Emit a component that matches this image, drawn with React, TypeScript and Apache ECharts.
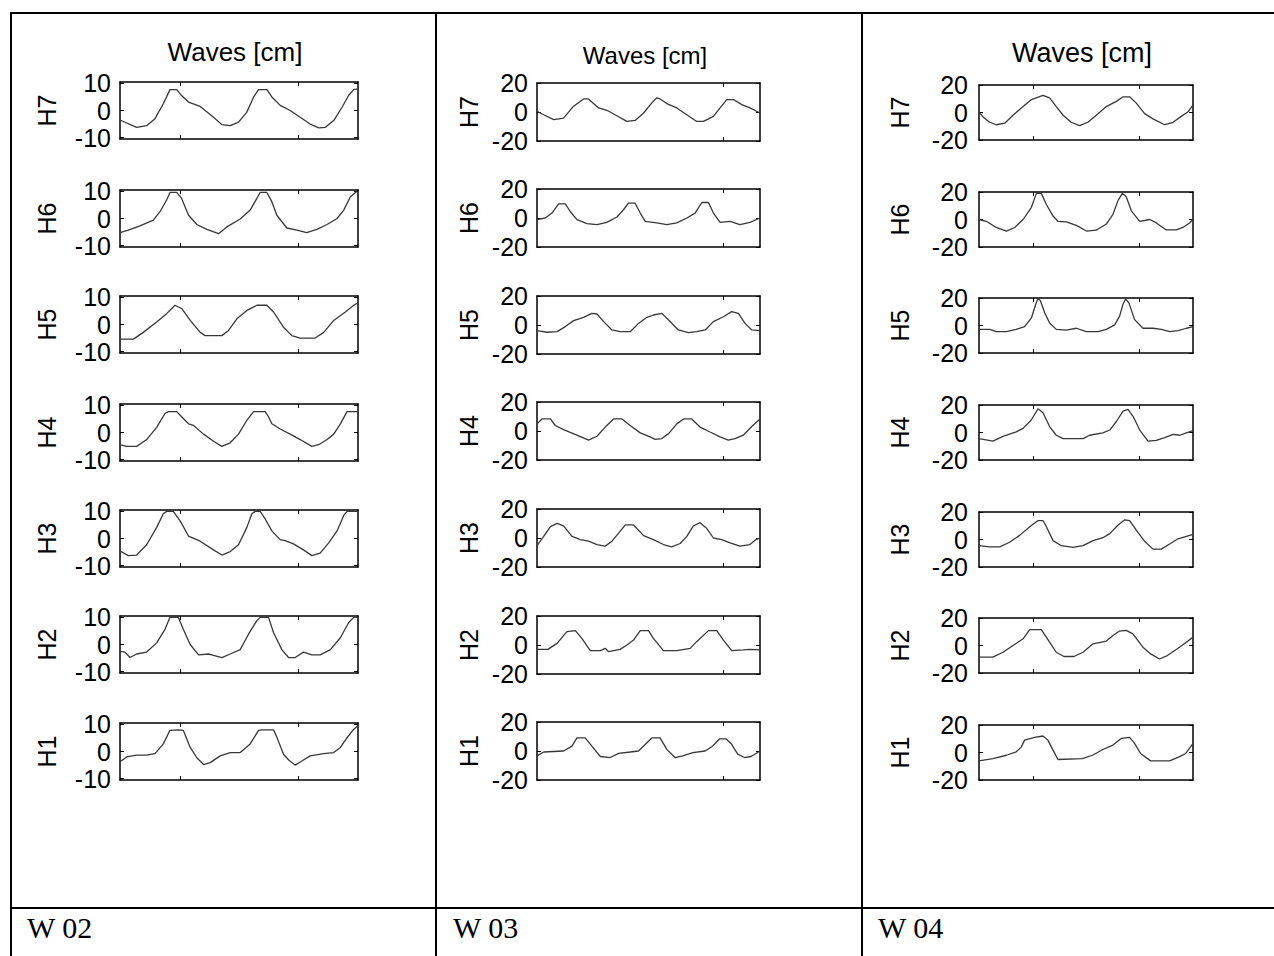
import React, { useEffect, useRef } from "react";
import * as echarts from "echarts";

// ---------- text ----------
const rowNames = ["H7", "H6", "H5", "H4", "H3", "H2", "H1"];
const columnLabels = ["W 02", "W 03", "W 04"];
const panelTitle = "Waves [cm]";

// ---------- axis ticks ----------
const yTicksW02 = [-10, 0, 10];
const yTicksW03 = [-20, 0, 20];
const yTicksW04 = [-20, 0, 20];
const yLimitW02 = [-10.5, 10.5];
const yLimitW03 = [-20, 20];
const yLimitW04 = [-20, 20];
const xTicksW02 = [25.2, 74.8];
const xTicksW03 = [83.4];
const xTicksW04 = [25.2, 74.8];

// ---------- series: [time % of record, wave elevation cm] ----------
const w02H7 = [[0,-3.5],[7,-6.2],[11.2,-5.6],[14.7,-3],[18.2,2.5],[21,7.7],[23.8,7.7],[25.9,5.5],[28.8,3.1],[33.7,1.5],[39.3,-2.5],[42.8,-5.2],[46.3,-5.6],[49.8,-4.3],[53.3,-0.6],[56.1,4.9],[58.2,7.7],[61.7,7.7],[63.8,5],[67.3,1.9],[71.5,0],[75.7,-2.5],[79.9,-5],[83.5,-6.4],[86.3,-6.2],[89.8,-3.7],[93.3,1.2],[96.1,5.6],[98.2,7.7],[100,8]];
const w02H6 = [[0,-5.2],[3.5,-4.3],[8.4,-2.7],[14,-0.6],[16.8,2.5],[19.6,6.8],[21,9.6],[23.8,9.6],[25.9,7.4],[28.8,1.2],[32.3,-2.2],[36.5,-4],[41.4,-5.6],[44.9,-3.1],[50.5,-0.2],[54.7,3.1],[57.5,7.4],[58.9,9.6],[61.7,9.6],[63.8,6.2],[65.9,1.2],[70.1,-3.5],[74.3,-4.3],[78.5,-5.2],[82.7,-4],[87,-2.2],[91.2,0],[94,3.1],[96.8,8],[99.6,10]];
const w02H5 = [[0,-5.4],[5.6,-5.4],[9.8,-2.9],[15.4,0.9],[19.6,4],[23.1,7.1],[25.9,5.9],[29.5,1.5],[33.7,-2.9],[35.8,-4.1],[42.8,-4.1],[45.6,-2.2],[49.1,2.1],[53.3,5.2],[57.5,7.1],[61.7,7.1],[64.5,4.6],[68.7,-1],[72.2,-4.1],[75.7,-5],[82,-5],[85.6,-2.9],[89.8,1.5],[94.7,4.6],[98.2,7.1],[100,8]];
const w02H4 = [[0,-4.5],[2.8,-5.1],[7,-5.1],[11.2,-2.6],[15.4,1.9],[18.9,7],[20.3,7.7],[23.8,7.7],[25.9,5.8],[28.8,3.2],[30.9,2.6],[35.1,-0.6],[39.3,-3.2],[42.8,-5.1],[46.3,-3.8],[49.8,-0.6],[53.3,4.5],[56.1,7.7],[61,7.7],[62.4,5.8],[63.8,3.2],[67.3,1.3],[71.5,-0.6],[75.7,-2.6],[80.6,-5.1],[83.5,-4.5],[87,-2.6],[89.8,-0.6],[92.6,3.2],[95.4,7.7],[100,7.7]];
const w02H3 = [[0,-4.6],[3.5,-6.3],[7,-6.1],[11.2,-2.3],[15.4,4.1],[18.2,9.1],[19.6,10],[22.4,10],[25.2,6.6],[28.8,0.9],[33.7,-1],[39.3,-4.2],[42.8,-6.1],[46.3,-4.8],[49.8,-2.3],[53.3,4.1],[55.4,9.1],[56.8,10],[58.9,10],[61,7.2],[63.8,2.8],[67.3,-0.4],[69.4,-0.8],[72.9,-2],[77.1,-4.2],[80.6,-6.3],[84.1,-5.4],[87.7,-1.6],[91.2,2.8],[94,8.5],[95.4,10],[100,10]];
const w02H2 = [[0,-2.5],[2.1,-2.8],[4.2,-4.8],[7,-3.5],[11.2,-2.8],[15.4,0.6],[18.9,5.6],[21,10],[24.5,10],[26.6,5.6],[29.5,0],[33,-3.8],[37.2,-3.5],[39.3,-4],[42.8,-4.8],[46.3,-3.5],[50.5,-1.9],[54,3.8],[57.5,8.8],[58.9,10],[62.4,10],[64.5,4.4],[68,-1.9],[70.8,-4.8],[73.6,-4.8],[77.1,-2.8],[80.6,-3.8],[84.1,-3.8],[88.4,-1.9],[92.6,2.5],[96.1,8.1],[98.2,10],[100,10]];
const w02H1 = [[0,-3.8],[2.8,-2],[7,-1.3],[11.2,-1.3],[14.7,-0.8],[18.2,2.8],[21,7.8],[24.5,8],[26.6,7.8],[29.5,1.5],[32.3,-2.3],[35.1,-4.8],[37.9,-4.1],[42.1,-1.6],[46.3,-0.4],[50.5,-0.4],[54.7,2.8],[58.2,7.8],[59.6,8],[64.5,8],[65.9,5.3],[68.7,-1],[71.1,-3.3],[73.6,-5],[76.4,-3.5],[79.9,-1.6],[85.6,-0.8],[89.8,-0.4],[92.6,1.5],[95,4.6],[97.8,7.8],[100,9.6]];

const w03H7 = [[0,0.5],[3,-1.9],[7.5,-5.3],[11.9,-4.2],[16.4,4],[20.9,9],[23.1,9],[27.6,2.8],[31.3,1.2],[35.8,-2.6],[40.3,-6.5],[44,-5.8],[47.8,-0.7],[51.5,6.3],[53.7,9.8],[55.2,9],[58.2,5.8],[62.7,2.8],[67.2,-1.9],[71.6,-6.5],[74.6,-6.5],[79.1,-3],[82.1,2.8],[85.1,8.6],[88.1,8.6],[91.8,5.1],[95.5,2.8],[100,-0.7]];
const w03H6 = [[0,-1.1],[3.7,0],[6.7,3.4],[9.7,9.8],[12.7,9.8],[14.9,4.5],[17.9,-1.1],[22.4,-3.9],[26.9,-4.5],[31.3,-3],[35.8,0.7],[38.8,5.7],[41,10.2],[44,10.2],[46.3,3.4],[48.5,-2.3],[53.7,-3.4],[58.2,-4.5],[62.7,-3.4],[67.2,0],[70.9,3.4],[73.9,10.7],[76.9,10.7],[79.1,3.4],[82.1,-3],[86.6,-2.3],[91,-4.5],[95.5,-3],[100,0]];
const w03H5 = [[0,-3.9],[4.5,-5],[9,-4.6],[12.7,-1.1],[16.4,3],[20.9,5.3],[24.6,8],[26.9,7.6],[29.9,2.3],[33.6,-3.4],[37.3,-4.6],[41.8,-4.6],[45.5,1.1],[49.3,5.3],[52.2,6.9],[56,8],[59,3.4],[63.4,-3.4],[67.9,-5.3],[71.6,-4.6],[75.4,-3.4],[79.1,2.3],[83.6,5.7],[87.3,9.2],[90.3,8],[93.3,1.1],[96.3,-3.4],[100,-3.9]];
const w03H4 = [[0,4.9],[2.2,8.3],[6,8.3],[8.2,3.8],[11.9,0.9],[17.9,-2.9],[23.1,-6.3],[26.9,-3.6],[30.6,2.7],[34.3,8.3],[38.1,8.3],[41.8,3.8],[46.3,-1.3],[50.7,-4],[53,-5.8],[56,-5.2],[59,-1.8],[62.7,4.9],[65.7,8.3],[69.4,8.3],[73.1,2.7],[77.6,-0.7],[82.1,-4],[85.8,-6.3],[88.8,-5.2],[92.5,-2.9],[96.3,3.1],[100,8.3]];
const w03H3 = [[0,-5.2],[3,1.1],[6,7.9],[9,10.1],[11.9,8.3],[15.7,1.1],[19.4,-1.1],[23.1,-2.2],[26.9,-4.5],[30.6,-5.6],[33.6,-2.2],[36.6,3.4],[39.6,9],[43.3,9],[47.8,1.6],[52.2,-1.1],[56.7,-4.5],[60.4,-6.1],[64.2,-3.8],[67.2,1.1],[70.1,8.3],[73.1,10.6],[76.1,6.7],[79.1,0],[82.8,-1.1],[86.6,-3.4],[91,-5.6],[95.5,-4.5],[98.2,-1.1],[100,0]];
const w03H2 = [[0,-3],[4.9,-3],[9,1.1],[13.4,9.2],[17.2,9.9],[20.1,4.6],[23.9,-3.9],[28.4,-3.9],[30.6,-2.3],[32.1,-4.6],[37.3,-3],[40.3,0],[43.3,3.4],[46.3,9.9],[50,9.9],[52.2,4.6],[56.7,-3.9],[62.7,-3.9],[68.7,-2.3],[71.6,2.3],[76.9,9.9],[80.6,9.9],[83.6,3.4],[87.3,-3.9],[92.5,-3.4],[95.5,-3],[100,-3.4]];
const w03H1 = [[0,-3.4],[3,-0.7],[11.9,0],[15.7,3.4],[17.9,9],[21.6,9],[24.6,3.4],[28.4,-3.8],[32.8,-4.5],[36.6,-1.6],[41.8,-0.7],[45.5,0],[48.5,4.5],[51.5,9],[55.2,9],[58.2,1.1],[61.9,-4.5],[65.4,-3.4],[69.9,-1.1],[75.4,0],[78.8,3.4],[81.8,8.3],[84.8,8.3],[87,5.2],[90,-2.2],[93,-4.5],[96,-3.8],[100,0]];

const w04H7 = [[0,0.5],[1.9,-3.3],[5,-7.1],[8.1,-8.9],[12,-7.8],[15.9,-2],[20.6,4.3],[24.5,9.4],[29.9,12.4],[33,10.6],[36.1,4.3],[39.3,-2],[43.1,-7.1],[47,-9.6],[50.9,-7.1],[54.8,-2],[59.5,4.3],[64.2,8.1],[67.3,11.4],[70.4,11.4],[73.5,6.8],[77.4,-0.8],[81.3,-4.6],[86.8,-8.9],[90.7,-7.1],[94.5,-2.8],[97.7,0.5],[100,5.6]];
const w04H6 = [[0,0],[3.4,-1.3],[8.1,-5.8],[12.8,-8.4],[16.7,-5.8],[20.6,0],[24.5,8.9],[26.8,19],[29.1,19],[31.5,10.9],[34.6,2.5],[36.9,-1.3],[40.8,-1.8],[45.5,-4.3],[50.2,-8.4],[54.8,-7.8],[59.5,-3.3],[62.6,3.8],[65,13.9],[67,19],[68.8,16.5],[71.2,6.3],[75.1,-1.3],[79.8,0],[82.9,-2.5],[87.5,-7.6],[92.2,-7.6],[95.3,-5.8],[98.4,-2.5],[100,0]];
const w04H5 = [[0,-2.8],[5,-2.8],[8.1,-4.5],[12.8,-4.5],[17.4,-2.8],[21.3,-0.8],[24.5,5.5],[26.5,15.5],[27.6,19.8],[28.7,18],[30.7,9.3],[33,1.8],[36.1,-2.8],[40.8,-3.3],[45.5,-2],[50.2,-4.5],[55.6,-4.5],[59.5,-2.8],[63.4,0.5],[65.7,6.8],[67.3,15.5],[68.5,19.3],[70.1,16.3],[72.7,4.3],[76.6,-2],[81.3,-2],[85.2,-2.8],[89.1,-4.5],[93,-3.8],[96.9,-2],[100,-0.8]];
const w04H4 = [[0,-4.5],[6.5,-6.3],[11.2,-2.8],[17.4,0.5],[20.6,3],[24.5,9.3],[27.6,17.3],[29.9,14.3],[33,4.3],[36.1,-2],[39.3,-4.5],[48.6,-4.5],[51.7,-2],[57.9,-0.3],[61.1,1.8],[64.2,8],[67.3,15.5],[69.6,16.8],[72,11.8],[75.1,1.8],[79,-6.3],[82.9,-5.8],[86.8,-3.8],[90.7,-1.3],[93.8,-2],[96.9,-0.3],[100,1.3]];
const w04H3 = [[0,-4.5],[5,-5.3],[9.7,-5.3],[14.3,-2],[19,3],[23.7,9.3],[27.6,13.8],[29.9,13.8],[31.5,9.3],[34.6,-0.8],[38.5,-4.5],[43.9,-5.8],[48.6,-4.5],[53.3,-0.8],[57.9,1.3],[61.1,4.3],[65,10.5],[68.1,14.3],[70.4,13.8],[73.5,6.8],[77.4,-1.3],[81.3,-7],[85.2,-7],[89.1,-3.3],[93,0.5],[96.9,2.3],[100,3.8]];
const w04H2 = [[0,-8.5],[6.5,-8.5],[11.2,-4.9],[15.9,0],[20.6,4.9],[23.7,11.5],[29.1,11.5],[33,2.4],[36.1,-4.9],[39.7,-8],[44.4,-8],[48.6,-4.9],[53.3,1.2],[59.5,3.2],[62.6,7.3],[65.7,10.5],[68.8,11],[71.9,8.5],[76.6,-1.2],[80.2,-6.1],[84.4,-9.8],[88,-7.3],[92.7,-2.4],[96.9,2.4],[100,6.1]];
const w04H1 = [[0,-6.1],[6.5,-4.4],[12.8,-2],[17.4,0.5],[19.8,4.1],[21.3,9],[26,11],[29.9,12],[32.2,9],[34.6,1.7],[36.9,-5.1],[48.3,-4.4],[53,-2],[57.9,2.2],[62.6,5.4],[66.5,10.2],[70.4,11],[72.7,6.6],[75.5,-0.7],[80.2,-6.1],[89.1,-6.1],[93.5,-3.2],[96.6,-0.7],[100,6.6]];

// ---------- styling / layout ----------
const SANS = "'Liberation Sans', Arial, sans-serif";
const SERIF = "'Liberation Serif', 'Times New Roman', serif";

type Col = {
  label: string;
  series: number[][][];
  yLimit: number[];
  yTicks: number[];
  xTicks: number[];
  left: number;
  width: number;
  tops: number[];
  height: number;
  nameGap: number;
  labelMargin: number;
  titleX: number;
  titleY: number;
  titleSize: number;
  labelX: number;
};

const columns: Col[] = [
  {
    label: columnLabels[0],
    series: [w02H7, w02H6, w02H5, w02H4, w02H3, w02H2, w02H1],
    yLimit: yLimitW02, yTicks: yTicksW02, xTicks: xTicksW02,
    left: 120, width: 238, tops: [82, 190, 296, 404, 510, 616, 723], height: 57,
    nameGap: 61, labelMargin: 9, titleX: 235, titleY: 52, titleSize: 26, labelX: 27,
  },
  {
    label: columnLabels[1],
    series: [w03H7, w03H6, w03H5, w03H4, w03H3, w03H2, w03H1],
    yLimit: yLimitW03, yTicks: yTicksW03, xTicks: xTicksW03,
    left: 537, width: 223, tops: [83, 189, 296, 402, 509, 616, 722], height: 58,
    nameGap: 56, labelMargin: 9, titleX: 645, titleY: 55, titleSize: 24, labelX: 453,
  },
  {
    label: columnLabels[2],
    series: [w04H7, w04H6, w04H5, w04H4, w04H3, w04H2, w04H1],
    yLimit: yLimitW04, yTicks: yTicksW04, xTicks: xTicksW04,
    left: 979, width: 214, tops: [85, 192, 298, 405, 512, 618, 725], height: 55,
    nameGap: 67, labelMargin: 11, titleX: 1082, titleY: 53, titleSize: 27, labelX: 878,
  },
];

function buildOption() {
  const grid: any[] = [];
  const xAxis: any[] = [];
  const yAxis: any[] = [];
  const series: any[] = [];
  const graphic: any[] = [];

  const boxLine = { show: true, onZero: false, lineStyle: { color: "#000", width: 1.5 } };

  columns.forEach((col) => {
    col.series.forEach((data, r) => {
      const g = grid.length;
      grid.push({ left: col.left, top: col.tops[r], width: col.width, height: col.height, containLabel: false });
      ["bottom", "top"].forEach((pos) => {
        xAxis.push({
          gridIndex: g, type: "value", position: pos, min: 0, max: 100,
          axisLine: boxLine,
          axisTick: { show: true, inside: true, length: 4, customValues: col.xTicks, lineStyle: { color: "#000", width: 1 } },
          axisLabel: { show: false },
          splitLine: { show: false },
        });
      });
      yAxis.push({
        gridIndex: g, type: "value", position: "left", min: col.yLimit[0], max: col.yLimit[1],
        name: rowNames[r], nameLocation: "middle", nameRotate: 90, nameGap: col.nameGap,
        nameTextStyle: { fontFamily: SANS, fontSize: 25, color: "#000" },
        axisLine: boxLine,
        axisTick: { show: true, inside: true, length: 4, customValues: col.yTicks, lineStyle: { color: "#000", width: 1 } },
        axisLabel: { show: true, customValues: col.yTicks, margin: col.labelMargin, fontFamily: SANS, fontSize: 25, color: "#000" },
        splitLine: { show: false },
      });
      yAxis.push({
        gridIndex: g, type: "value", position: "right", min: col.yLimit[0], max: col.yLimit[1],
        axisLine: boxLine,
        axisTick: { show: true, inside: true, length: 4, customValues: col.yTicks, lineStyle: { color: "#000", width: 1 } },
        axisLabel: { show: false },
        splitLine: { show: false },
      });
      series.push({
        type: "line",
        name: `${col.label} ${rowNames[r]}`,
        xAxisIndex: 2 * g,
        yAxisIndex: 2 * g,
        data,
        showSymbol: false,
        symbol: "none",
        clip: true,
        silent: true,
        lineStyle: { color: "#383838", width: 1.3 },
      });
    });

    graphic.push({
      type: "text", x: col.titleX, y: col.titleY, silent: true,
      style: { text: panelTitle, fontFamily: SANS, fontSize: col.titleSize, fill: "#000", align: "center", verticalAlign: "middle" },
    });
    graphic.push({
      type: "text", x: col.labelX, y: 927, silent: true,
      style: { text: col.label, fontFamily: SERIF, fontSize: 30, fill: "#000", align: "left", verticalAlign: "middle" },
    });
  });

  const tableLine = (x1: number, y1: number, x2: number, y2: number) => ({
    type: "line", silent: true,
    shape: { x1, y1, x2, y2 },
    style: { stroke: "#000", lineWidth: 2 },
  });
  graphic.push(tableLine(10, 13, 1274, 13));
  graphic.push(tableLine(11, 12, 11, 956));
  graphic.push(tableLine(436, 12, 436, 956));
  graphic.push(tableLine(862, 12, 862, 956));
  graphic.push(tableLine(10, 908, 1274, 908));

  return {
    animation: false,
    backgroundColor: "#fff",
    grid, xAxis, yAxis, series, graphic,
  };
}

export default function App() {
  const ref = useRef<HTMLDivElement>(null);
  useEffect(() => {
    if (!ref.current) return;
    const chart = echarts.init(ref.current, null, { renderer: "svg" });
    chart.setOption(buildOption() as any);
    return () => chart.dispose();
  }, []);
  return (
    <div
      ref={ref}
      style={{ position: "fixed", left: 0, top: 0, width: 1274, height: 956, background: "#fff" }}
    />
  );
}
